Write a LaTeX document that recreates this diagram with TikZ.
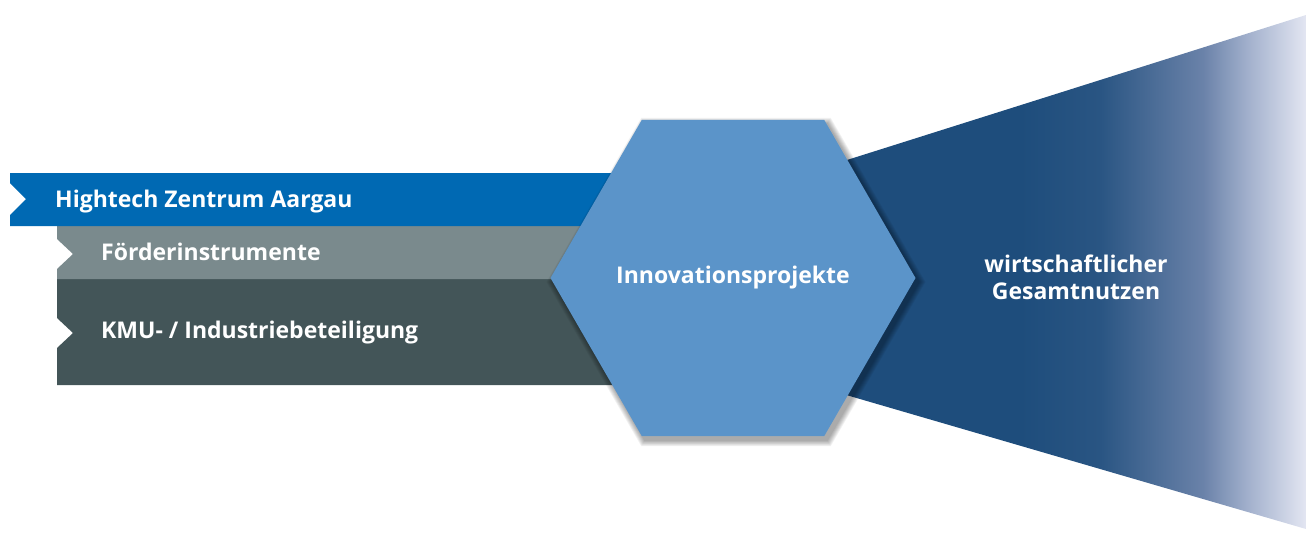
\documentclass[tikz,border=0pt]{standalone}
\usepackage{fontspec}
\setmainfont{Open Sans}
\usepackage{tikz}
\usetikzlibrary{shapes.geometric}
\definecolor{hzblue}{HTML}{0069B3}
\definecolor{hzgrey}{HTML}{7A8A8D}
\definecolor{hzdark}{HTML}{435558}
\definecolor{hzhex}{HTML}{5B94C9}
\definecolor{hznavy}{HTML}{1E4D7C}
\definecolor{hzmid}{HTML}{6A82A9}
\definecolor{hzpale}{HTML}{A3B1CD}
\definecolor{hzwhite}{HTML}{E3E6F2}
\pgfdeclarehorizontalshading{benefitshade}{100bp}{color(0bp)=(hznavy); color(50bp)=(hznavy);
  color(57bp)=(hznavy!85!hzmid); color(66bp)=(hzmid); color(70bp)=(hzpale); color(75bp)=(hzwhite);
  color(100bp)=(hzwhite)}
\tikzset{whitetext/.style={text=white,font=\fontsize{23}{27}\selectfont\bfseries,inner sep=0pt}}
\tikzset{hexa/.style={regular polygon,regular polygon sides=6,minimum size=365pt,inner sep=0pt}}
\def\notch{16}

\begin{document}
\begin{tikzpicture}[x=1pt,y=-1pt]
    \tikzstyle{bartext}=[whitetext,anchor=base west]
    \useasboundingbox (0,0) rectangle (1306,535);

    % Draw the widening benefit area behind the hexagon
    \shade[shading=benefitshade] (733,196) -- (1306,15) -- (1306,529) -- (733,362) -- cycle;

    % Draw the three input bars, each with a notch on its left side
    \fill[hzdark] (57,279) -- (650,279) -- (650,385) -- (57,385) -- (57,348)
        -- (57+\notch,333) -- (57,318) -- cycle;
    \fill[hzgrey] (57,226) -- (650,226) -- (650,279) -- (57,279) -- (57,269)
        -- (57+\notch,254) -- (57,239) -- cycle;
    \fill[hzblue] (10,173) -- (650,173) -- (650,226) -- (10,226) -- (10,215)
        -- (10+\notch,199) -- (10,183) -- cycle;

    \node[bartext] (hta) at (55,207) {Hightech Zentrum Aargau};
    \node[bartext] (foe) at (101,260) {Förderinstrumente};
    \node[bartext] (kmu) at (101,338) {KMU- / Industriebeteiligung};

    % Soft shadow of the hexagon
    \foreach \s in {1,...,7}
        \node[hexa,fill=black,opacity=0.055,minimum size=365pt+2*\s pt] (sh-\s) at (736,282) {};

    % The hexagon in the middle
    \node[hexa,fill=hzhex] (proj) at (733,278) {};
    \node[whitetext] (projtext) at (proj) {Innovationsprojekte};

    \node[whitetext,align=center] (benefit) at (1076,277) {wirtschaftlicher\\Gesamtnutzen};
\end{tikzpicture}
\end{document}
